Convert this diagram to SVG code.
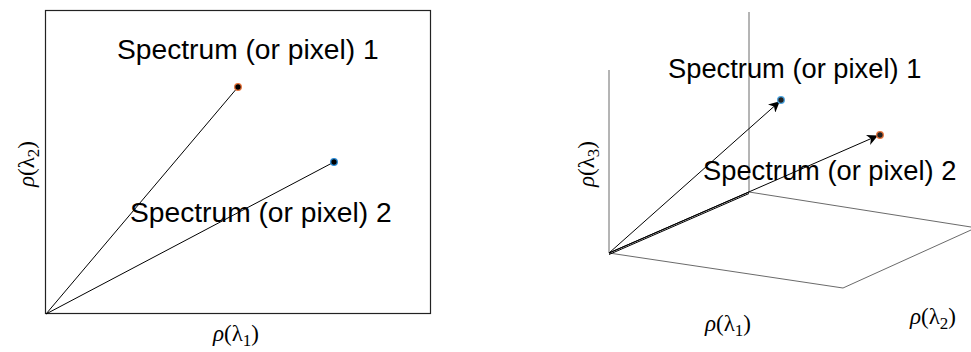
<svg xmlns="http://www.w3.org/2000/svg" width="971" height="352" viewBox="0 0 971 352">
<style>
.lbl{font-family:"Liberation Sans",Arial,sans-serif;font-size:28.2px;fill:#000}
.lbl2{font-family:"Liberation Sans",Arial,sans-serif;font-size:27.3px;fill:#000}
.ax{font-family:"Liberation Serif","Times New Roman",serif;font-size:23px;fill:#000}
.rho{font-style:italic}
.sub{font-size:17px}
.ln{stroke:#000;stroke-width:1;fill:none}
.thin{stroke:#444;stroke-width:0.8;fill:none}
</style>
<defs>
<marker id="ah" viewBox="0 0 10 10" refX="9" refY="5" markerWidth="11" markerHeight="11" markerUnits="userSpaceOnUse" orient="auto">
<path d="M0,0 L10,5 L0,10 L3,5 Z" fill="#000"/>
</marker>
</defs>
<rect width="971" height="352" fill="#fff"/>
<g id="left-panel">
<rect x="45.5" y="10.5" width="385" height="303" fill="none" stroke="#222" stroke-width="1.2"/>
</g>
<g id="connectors">
<line class="ln" x1="46" y1="314" x2="238" y2="87"/>
<line class="ln" x1="46" y1="314" x2="334" y2="162"/>
<line class="thin" x1="609" y1="70" x2="609" y2="253"/>
<line class="thin" x1="749" y1="12" x2="749" y2="192"/>
<line class="thin" x1="749" y1="192" x2="971" y2="227"/>
<line class="thin" x1="609" y1="253" x2="843" y2="288"/>
<line class="thin" x1="843" y1="288" x2="971" y2="230"/>
<line class="ln" x1="609" y1="253" x2="749" y2="192"/>
<line class="ln" x1="609" y1="254.5" x2="749" y2="193.5"/>
<line class="ln" x1="609" y1="253" x2="779" y2="102" marker-end="url(#ah)"/>
<line class="ln" x1="609" y1="253" x2="877" y2="136" marker-end="url(#ah)"/>
</g>
<g id="point1-left">
<circle cx="238" cy="87" r="3.3" fill="#000" stroke="#e8743b" stroke-width="1.3"/>
<text class="lbl" x="117" y="59">Spectrum (or pixel) 1</text>
</g>
<g id="point2-left">
<circle cx="334" cy="162" r="3.3" fill="#000" stroke="#2a8bd6" stroke-width="1.3"/>
<text class="lbl" x="130" y="222">Spectrum (or pixel) 2</text>
</g>
<g id="point1-right">
<circle cx="781" cy="100" r="3.3" fill="#222" stroke="#4aa3df" stroke-width="1.3"/>
<text class="lbl2" x="668" y="78">Spectrum (or pixel) 1</text>
</g>
<g id="point2-right">
<circle cx="880" cy="135" r="3.3" fill="#222" stroke="#e8743b" stroke-width="1.3"/>
<text class="lbl2" x="703" y="180">Spectrum (or pixel) 2</text>
</g>
<g id="axis-labels">
<text class="ax" x="213" y="341"><tspan class="rho">ρ</tspan>(λ<tspan class="sub" dy="5">1</tspan><tspan dy="-5">)</tspan></text>
<text class="ax" transform="translate(34,187) rotate(-90)"><tspan class="rho">ρ</tspan>(λ<tspan class="sub" dy="5">2</tspan><tspan dy="-5">)</tspan></text>
<text class="ax" x="705" y="331"><tspan class="rho">ρ</tspan>(λ<tspan class="sub" dy="5">1</tspan><tspan dy="-5">)</tspan></text>
<text class="ax" x="910" y="324"><tspan class="rho">ρ</tspan>(λ<tspan class="sub" dy="5">2</tspan><tspan dy="-5">)</tspan></text>
<text class="ax" transform="translate(594,187) rotate(-90)"><tspan class="rho">ρ</tspan>(λ<tspan class="sub" dy="5">3</tspan><tspan dy="-5">)</tspan></text>
</g>
</svg>
